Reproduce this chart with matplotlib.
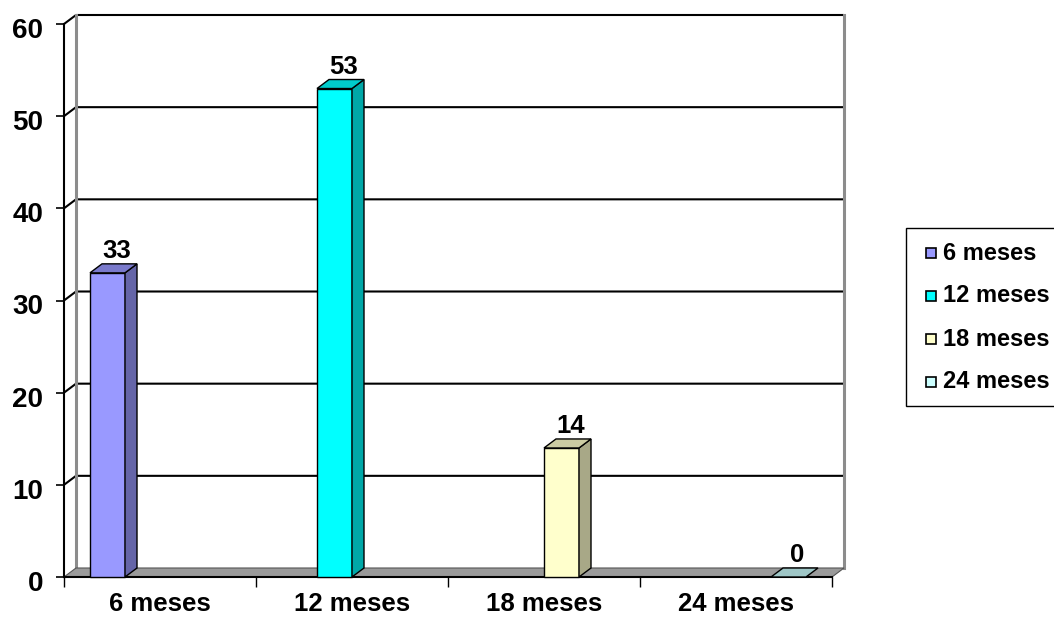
import matplotlib
matplotlib.use("Agg")
import matplotlib.pyplot as plt
import matplotlib.transforms as mtransforms
from matplotlib.patches import Polygon, Rectangle
import numpy as np

# ---- data ----
categories = ["6 meses", "12 meses", "18 meses", "24 meses"]
series_names = ["6 meses", "12 meses", "18 meses", "24 meses"]
values = [33, 53, 14, 0]
y_ticks = [0, 10, 20, 30, 40, 50, 60]

front_colors = ["#9999FF", "#00FFFF", "#FFFFCC", "#CCFFFF"]

W, H = 1054, 617
fig = plt.figure(figsize=(W / 100, H / 100), dpi=100)
plt.rcParams['font.family'] = ['Liberation Sans', 'DejaVu Sans']

# plot area in pixels
L, R, B, T = 64, 832, 577, 24
ax = fig.add_axes([L / W, 1 - B / H, (R - L) / W, (B - T) / H])
ax.set_xlim(0, 4)
ax.set_ylim(0, 60)
ax.set_facecolor("none")

px_x = 4 / (R - L)
px_y = 60 / (B - T)
DX = 12 * px_x
DY = 9 * px_y


def shade(c, f):
    rgb = np.array(matplotlib.colors.to_rgb(c))
    return tuple(rgb * f)


ymax = y_ticks[-1]
# back wall
ax.add_patch(Polygon([(DX, DY), (4 + DX, DY), (4 + DX, ymax + DY), (DX, ymax + DY)],
                     closed=True, facecolor="white", edgecolor="none", clip_on=False, zorder=1))
# gridlines on back wall and side wall
for v in y_ticks[1:]:
    ax.plot([0, DX, 4 + DX], [v, v + DY, v + DY], color="black", lw=1.5,
            clip_on=False, zorder=2, solid_capstyle="butt")
# back wall edges (grey)
ax.plot([DX, DX], [DY, ymax + DY], color="#8C8C8C", lw=2.2, clip_on=False, zorder=2)
ax.plot([4 + DX, 4 + DX], [DY, ymax + DY], color="#8C8C8C", lw=2.2, clip_on=False, zorder=2)

# floor
ax.add_patch(Polygon([(0, 0), (4, 0), (4 + DX, DY), (DX, DY)], closed=True,
                     facecolor="#9A9A9A", edgecolor="#555555", lw=0.8, clip_on=False, zorder=3))

# bars: series i in category i
n = len(series_names)
bw = 35 * px_x
gap = 26 * px_x
for i, (val, col) in enumerate(zip(values, front_colors)):
    x0 = i + gap + i * bw
    x1 = x0 + bw
    ec = "black"
    lw = 1.0
    if val > 0:
        ax.bar(x0, val, width=bw, align="edge", color=col, edgecolor=ec, linewidth=lw,
               zorder=5, clip_on=False)
        ax.add_patch(Polygon([(x1, 0), (x1 + DX, DY), (x1 + DX, val + DY), (x1, val)],
                             closed=True, facecolor=shade(col, 0.66), edgecolor=ec, lw=lw,
                             zorder=5, clip_on=False))
        top_col = shade(col, 0.8)
    else:
        top_col = shade(col, 0.78)
    ax.add_patch(Polygon([(x0, val), (x1, val), (x1 + DX, val + DY), (x0 + DX, val + DY)],
                         closed=True, facecolor=top_col, edgecolor=ec, lw=lw,
                         zorder=5, clip_on=False))
    ax.text((x0 + x1) / 2 + 9 * px_x, val + DY + 1 * px_y, str(val), ha="center", va="bottom",
            fontsize=18.5, fontweight="bold", zorder=6)

# axes styling
for s in ["top", "right"]:
    ax.spines[s].set_visible(False)
ax.spines["left"].set_linewidth(1.5)
ax.spines["bottom"].set_linewidth(1.5)
ax.spines["left"].set_zorder(4)
ax.spines["bottom"].set_zorder(4)
ax.set_yticks(y_ticks)
ax.set_yticklabels([str(v) for v in y_ticks], fontsize=20, fontweight="bold")
ax.tick_params(axis="y", direction="out", length=6, width=1.2, pad=9)
shift = mtransforms.ScaledTranslation(0, -4 / 100, fig.dpi_scale_trans)
for lab in ax.get_yticklabels():
    lab.set_transform(lab.get_transform() + shift)
ax.set_xticks(np.arange(0, 5))
ax.set_xticklabels([])
ax.tick_params(axis="x", which="major", direction="out", length=7, width=1.0)
ax.set_xticks(np.arange(4) + 0.5, minor=True)
ax.set_xticklabels(categories, minor=True, fontsize=18.5, fontweight="bold")
ax.tick_params(axis="x", which="minor", length=0, pad=11)

# legend (manual, in pixels)
def fx(p):
    return p / W


def fy(p):
    return 1 - p / H


leg_top, leg_bot, leg_left = 228, 406, 906
fig.add_artist(Rectangle((fx(leg_left), fy(leg_bot)), fx(W - leg_left + 20), (leg_bot - leg_top) / H,
                         transform=fig.transFigure, facecolor="white", edgecolor="black", lw=1.0))
row_y = [253, 296, 339, 382]
for name, col, ry in zip(series_names, front_colors, row_y):
    fig.add_artist(Rectangle((fx(926), fy(ry + 5)), 10 / W, 10 / H, transform=fig.transFigure,
                             facecolor=col, edgecolor="black", lw=1.2))
    fig.text(fx(943), fy(ry), name, ha="left", va="center", fontsize=17, fontweight="bold")

fig.savefig("out.png", dpi=100)
